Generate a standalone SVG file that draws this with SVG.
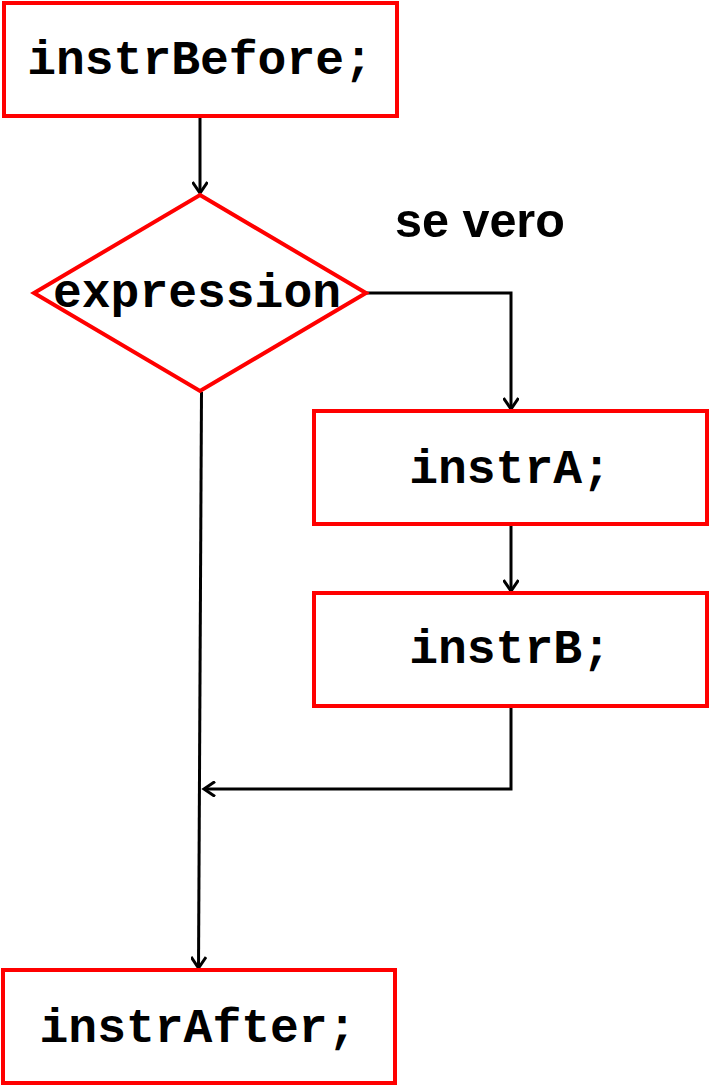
<svg xmlns="http://www.w3.org/2000/svg" width="709" height="1086" viewBox="0 0 709 1086">
<style>
.box{fill:#fff;stroke:#f00;stroke-width:4}
.code{font-family:"Liberation Mono","Courier New",monospace;font-weight:bold;font-size:48px;fill:#000;text-anchor:middle}
.lbl{font-family:"Liberation Sans",Arial,sans-serif;font-weight:bold;font-size:48.5px;fill:#000}
.conn{fill:none;stroke:#000;stroke-width:3}
</style>
<defs>
<marker id="arr" markerWidth="16" markerHeight="16" refX="12" refY="8" orient="auto" markerUnits="userSpaceOnUse">
<path d="M1,0.5 L12,8 L1,15.5" fill="none" stroke="#000" stroke-width="3"/>
</marker>
</defs>
<rect width="709" height="1086" fill="#fff"/>
<g id="connectors">
<line class="conn" x1="200" y1="117" x2="200" y2="193" marker-end="url(#arr)"/>
<polyline class="conn" points="366,293 511,293 511,409" marker-end="url(#arr)"/>
<line class="conn" x1="511" y1="525" x2="511" y2="591" marker-end="url(#arr)"/>
<polyline class="conn" points="511,707 511,789 204,789" marker-end="url(#arr)"/>
<line class="conn" x1="201.5" y1="392" x2="198.5" y2="968" marker-end="url(#arr)"/>
</g>
<g id="instrBefore">
<rect class="box" x="4" y="3" width="393" height="113"/>
<text class="code" x="200" y="74">instrBefore;</text>
</g>
<g id="expression">
<polygon class="box" points="200,195 366,293 200,391 34,293"/>
<text class="code" x="197" y="307">expression</text>
</g>
<g id="label-se-vero">
<text class="lbl" x="395" y="237">se vero</text>
</g>
<g id="instrA">
<rect class="box" x="314" y="411" width="393" height="113"/>
<text class="code" x="510" y="483">instrA;</text>
</g>
<g id="instrB">
<rect class="box" x="314" y="593" width="393" height="113"/>
<text class="code" x="510" y="663">instrB;</text>
</g>
<g id="instrAfter">
<rect class="box" x="3" y="970" width="392" height="113"/>
<text class="code" x="198" y="1042">instrAfter;</text>
</g>
</svg>
